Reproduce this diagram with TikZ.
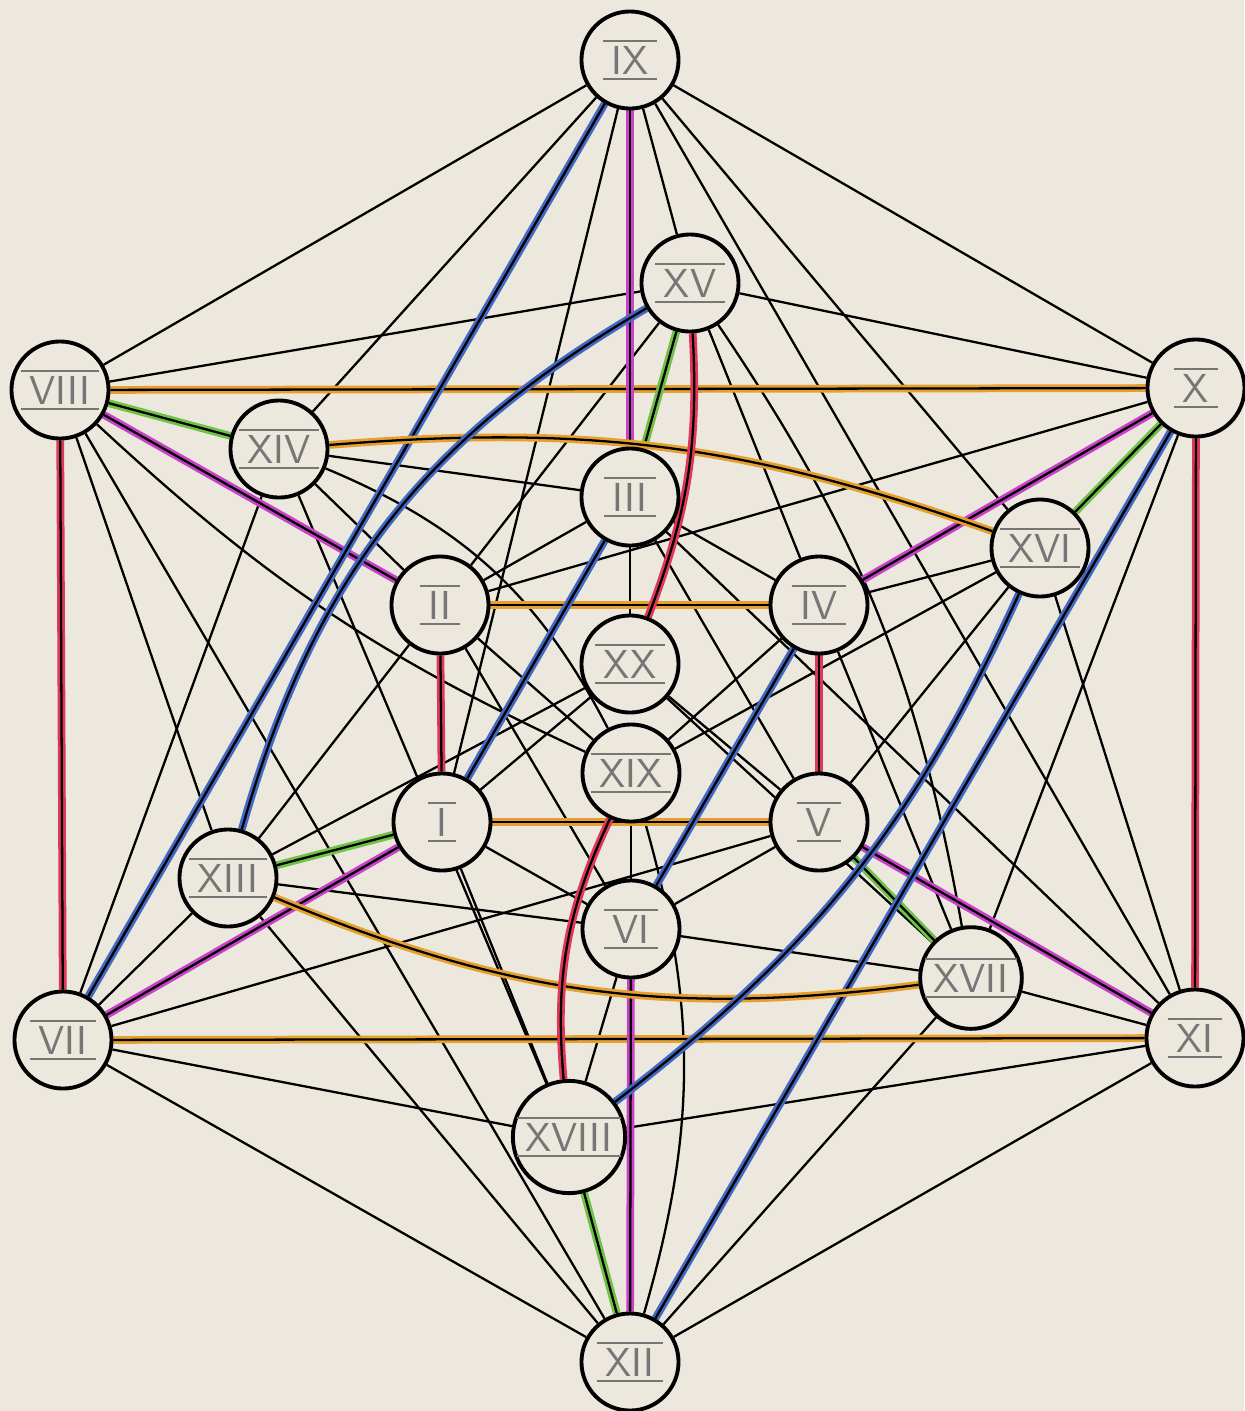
\documentclass[tikz,border=0pt]{standalone}
\usetikzlibrary{backgrounds}
\pgfdeclarelayer{lines}
\pgfsetlayers{background,lines,main}
\definecolor{paper}{RGB}{236,232,222}
\definecolor{pOrange}{RGB}{230,160,45}
\definecolor{pRed}{RGB}{222,55,90}
\definecolor{pGreen}{RGB}{110,195,70}
\definecolor{pMagenta}{RGB}{200,65,200}
\definecolor{pBlue}{RGB}{65,105,195}
\definecolor{pencil}{RGB}{118,118,118}
\newcommand{\rn}[1]{$\overline{\underline{\hbox{\hspace{2.5pt}#1\hspace{2.5pt}}}}$}

\begin{document}
\begin{tikzpicture}[x=0.01cm, y=-0.01cm,
  vtx/.style={draw, circle, line width=1.1pt, minimum size=9.7mm, inner sep=0pt, fill=paper, text=pencil, font=\sffamily\fontsize{11.5}{13}\selectfont},
  ln/.style={line width=0.65pt},
  hl/.style={line width=2.2pt, #1}]

\useasboundingbox (0,0) rectangle (1244,1411);
\begin{pgfonlayer}{background}
\fill[paper] (0,0) rectangle (1244,1411);
\end{pgfonlayer}

% ---- outer ring --------------------------------------------------------------
\node[vtx] (IX)    at (630,60)    {\rn{IX}};
\node[vtx] (X)     at (1196,388)  {\rn{X}};
\node[vtx] (XI)    at (1195,1038) {\rn{XI}};
\node[vtx] (XII)   at (630,1362)  {\rn{XII}};
\node[vtx] (VII)   at (63,1040)   {\rn{VII}};
\node[vtx] (VIII)  at (60,390)    {\rn{VIII}};

% ---- middle ring -------------------------------------------------------------
\node[vtx] (XV)    at (690,283)   {\rn{XV}};
\node[vtx] (XVI)   at (1040,548)  {\rn{XVI}};
\node[vtx] (XVII)  at (971,978)   {\rn{XVII}};
\node[vtx] (XVIII) at (569,1137)  {\rn{XVIII}};
\node[vtx] (XIII)  at (228,878)   {\rn{XIII}};
\node[vtx] (XIV)   at (279,449)   {\rn{XIV}};

% ---- inner ring and centre ---------------------------------------------------
\node[vtx] (III)   at (630,497)   {\rn{III}};
\node[vtx] (IV)    at (819,605)   {\rn{IV}};
\node[vtx] (V)     at (819,822)   {\rn{V}};
\node[vtx] (VI)    at (631,929)   {\rn{VI}};
\node[vtx] (I)     at (442,822)   {\rn{I}};
\node[vtx] (II)    at (440,605)   {\rn{II}};
\node[vtx] (XX)    at (630,664)   {\rn{XX}};
\node[vtx] (XIX)   at (631,773)   {\rn{XIX}};

\begin{pgfonlayer}{lines}
% plain pencil lines
\foreach \a/\b in {IX/XI, IX/VIII, IX/X, VII/XII, XI/XII, IX/XV, XI/XVII, VII/XIII,
    IX/XIV, IX/XVI, XI/XVI, XI/XVIII, VII/XVIII, VII/XIV, IX/I, XI/III, VII/V,
    XII/VIII, VIII/XIII, VIII/XV, X/XV, X/XVII, XII/XVII, XII/XIII, X/II,
    XV/II, XV/IV, XVII/IV, XVII/VI, XIII/VI, XIII/II, XVII/XX, XIII/XX,
    XVIII/XIV, V/III, VI/II, IV/III, VI/V, VI/I, II/III, III/XX, V/XX, I/XX,
    XIV/II, XVI/IV, XVIII/VI, XIV/III, XVI/V, XVIII/I, XIX/VI, II/XIX, IV/XIX, XVI/XIX}
  \draw[ln] (\a) -- (\b);
\draw[ln] (XV) to[bend left=12] (XVII);
\draw[ln] (XIV) to[bend left=20] (XIX);
\draw[ln] (VIII) to[bend right=9] (XIX);
\draw[ln] (XIX) to[bend left=16] (XII);

% coloured pencil beside the lines
\foreach \a/\b/\c in {VIII/X/pOrange, II/IV/pOrange, I/V/pOrange, VII/XI/pOrange,
    VIII/VII/pRed, X/XI/pRed, II/I/pRed, IV/V/pRed,
    VIII/XIV/pGreen, XV/III/pGreen, X/XVI/pGreen, XIII/I/pGreen, V/XVII/pGreen, XVIII/XII/pGreen,
    IX/III/pMagenta, VIII/II/pMagenta, X/IV/pMagenta, VII/I/pMagenta, XI/V/pMagenta, VI/XII/pMagenta,
    IX/VII/pBlue, III/I/pBlue, X/XII/pBlue, IV/VI/pBlue}
  {\draw[hl=\c] (\a) -- (\b); \draw[ln] (\a) -- (\b);}
\draw[hl=pOrange] (XIV) to[bend left=12] (XVI);
\draw[ln] (XIV) to[bend left=12] (XVI);
\draw[hl=pOrange] (XIII) to[bend right=15] (XVII);
\draw[ln] (XIII) to[bend right=15] (XVII);
\draw[hl=pRed] (XV) to[bend left=12] (XX);
\draw[ln] (XV) to[bend left=12] (XX);
\draw[hl=pRed] (XIX) to[bend right=15] (XVIII);
\draw[ln] (XIX) to[bend right=15] (XVIII);
\draw[hl=pBlue] (XV) to[bend right=22] (XIII);
\draw[ln] (XV) to[bend right=22] (XIII);
\draw[hl=pBlue] (XVI) to[bend left=14] (XVIII);
\draw[ln] (XVI) to[bend left=14] (XVIII);
\end{pgfonlayer}

\end{tikzpicture}
\end{document}
